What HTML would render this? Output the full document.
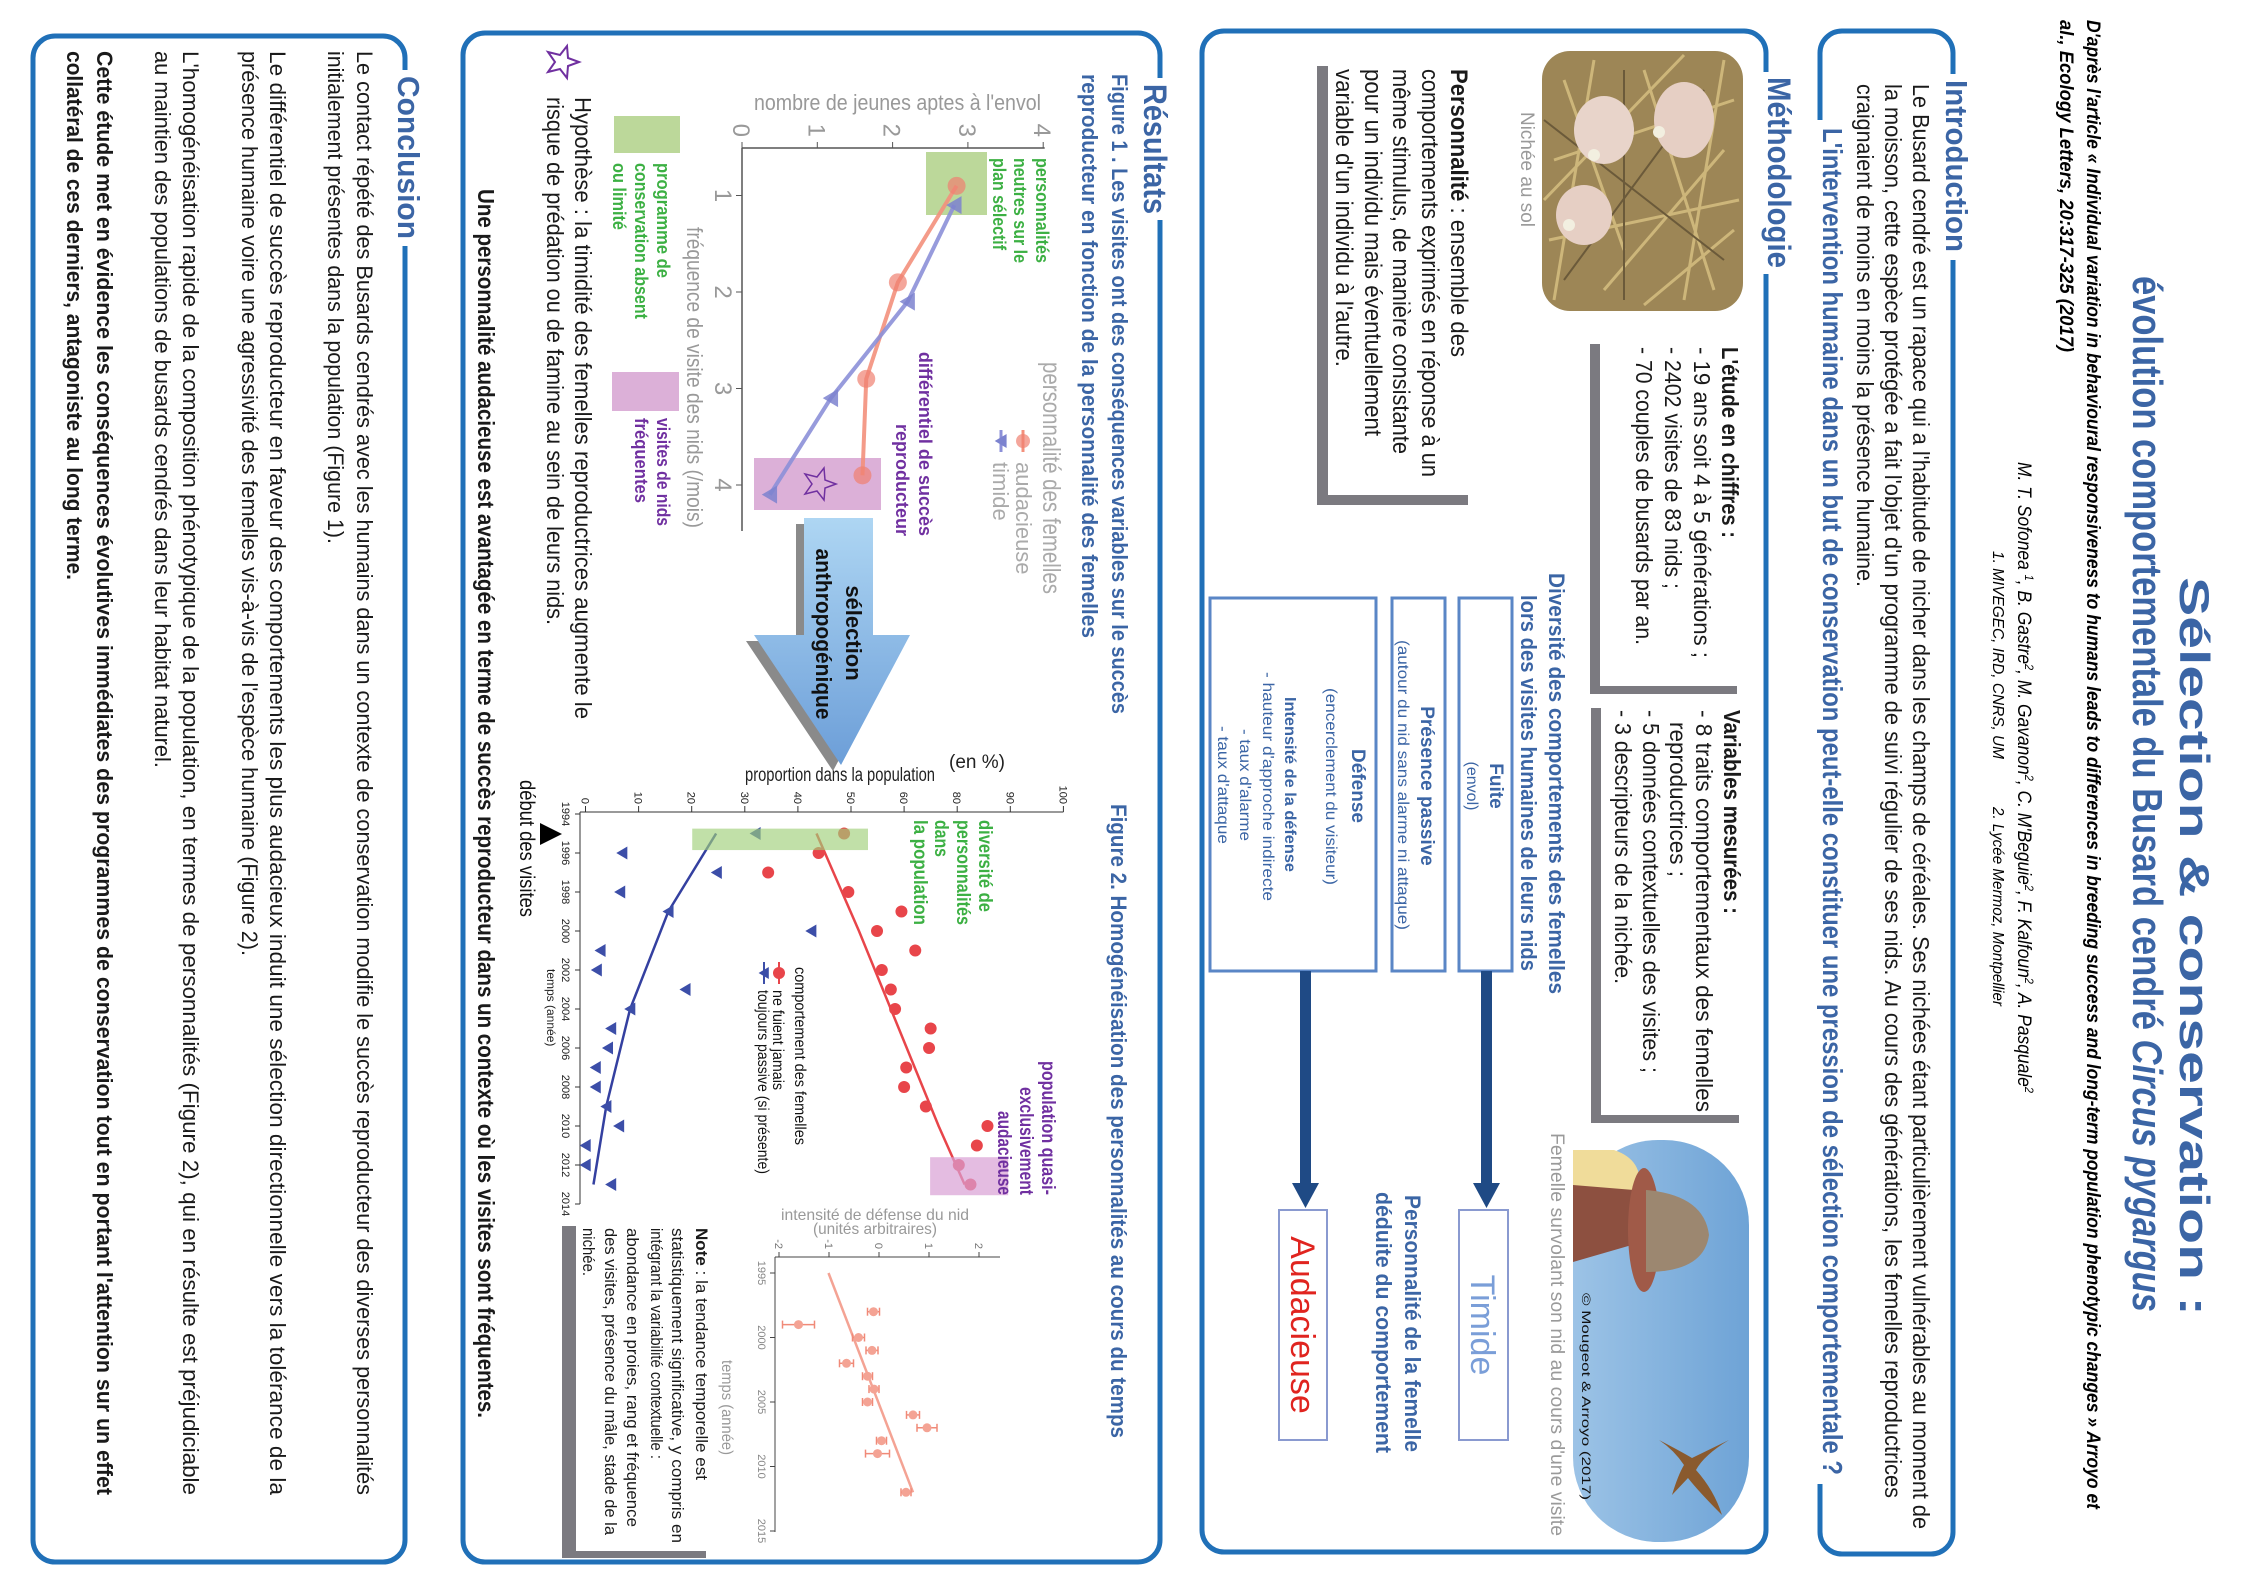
<!DOCTYPE html>
<html lang="fr"><head><meta charset="utf-8"><title>Sélection &amp; conservation – Busard cendré</title>
<style>
html,body{margin:0;padding:0;background:#fff;}
svg{display:block;}
text{font-family:"Liberation Sans",sans-serif;}
.b{font-weight:bold;}
.hd{font-weight:bold;fill:#3b65a5;}
.tx{fill:#1a1a1a;}
.gr{fill:#9a9a9a;}
</style></head>
<body>
<svg id="poster" width="2244" height="1587" viewBox="0 0 2244 1587" xmlns="http://www.w3.org/2000/svg">
<defs>
<linearGradient id="arrowGrad" x1="0" y1="0" x2="1" y2="0"><stop offset="0" stop-color="#aed6f3"/><stop offset="1" stop-color="#6c9ed8"/></linearGradient>
<linearGradient id="skyGrad" x1="0" y1="0" x2="0" y2="1"><stop offset="0" stop-color="#6ea3d6"/><stop offset="1" stop-color="#9cc3e6"/></linearGradient>
</defs>
<rect width="2244" height="1587" fill="#fff"/>
<g id="page" transform="translate(2244,0) rotate(90)">

<text class="hd" x="577" y="64" font-size="42" textLength="739" lengthAdjust="spacingAndGlyphs">Sélection &amp; conservation :</text>
<text class="hd" x="276" y="111" font-size="42" textLength="1036" lengthAdjust="spacingAndGlyphs">évolution comportementale du Busard cendré <tspan font-style="italic">Circus pygargus</tspan></text>
<text font-weight="bold" font-style="italic" font-size="19" x="20" y="157" textLength="1489" lengthAdjust="spacingAndGlyphs">D'après l'article « Individual variation in behavioural responsiveness to humans leads to differences in breeding success and long-term population phenotypic changes » Arroyo et</text>
<text font-weight="bold" font-style="italic" font-size="19" x="20" y="184" textLength="332" lengthAdjust="spacingAndGlyphs">al., Ecology Letters, 20:317-325  (2017)</text>
<text font-style="italic" font-size="19" x="462" y="226" textLength="631" lengthAdjust="spacingAndGlyphs">M. T. Sofonea <tspan font-size="12" dy="-7">1</tspan><tspan dy="7">, B. Gastre</tspan><tspan font-size="12" dy="-7">2</tspan><tspan dy="7">, M. Gavanon</tspan><tspan font-size="12" dy="-7">2</tspan><tspan dy="7">, C. M'Beguie</tspan><tspan font-size="12" dy="-7">2</tspan><tspan dy="7">, F. Kalfoun</tspan><tspan font-size="12" dy="-7">2</tspan><tspan dy="7">, A. Pasquale</tspan><tspan font-size="12" dy="-7">2</tspan></text>
<text font-style="italic" font-size="16" x="551" y="251" textLength="208" lengthAdjust="spacingAndGlyphs">1. MIVEGEC, IRD, CNRS, UM</text>
<text font-style="italic" font-size="16" x="807" y="251" textLength="199" lengthAdjust="spacingAndGlyphs">2. Lycée Mermoz, Montpellier</text>

<g>
<rect x="31" y="291" width="1523" height="133" rx="22" fill="none" stroke="#2070b8" stroke-width="5"/>
<rect x="74" y="278" width="186" height="22" fill="#fff"/>
<text class="hd" x="80" y="298" font-size="31" textLength="172" lengthAdjust="spacingAndGlyphs">Introduction</text>
<text class="tx" font-size="23" x="84" y="331" textLength="1445" lengthAdjust="spacingAndGlyphs">Le Busard cendré est un rapace qui a l'habitude de nicher dans les champs de céréales. Ses nichées étant particulièrement vulnérables au moment de</text>
<text class="tx" font-size="23" x="84" y="359" textLength="1414" lengthAdjust="spacingAndGlyphs">la moisson, cette espèce protégée a fait l'objet d'un programme de suivi régulier de ses nids. Au cours des générations, les femelles reproductrices</text>
<text class="tx" font-size="23" x="84" y="387" textLength="503" lengthAdjust="spacingAndGlyphs">craignaient de moins en moins la présence humaine.</text>
<rect x="120" y="414" width="1364" height="16" fill="#fff"/>
<text class="hd" x="128" y="421" font-size="28" textLength="1347" lengthAdjust="spacingAndGlyphs">L'intervention humaine dans un but de conservation peut-elle constituer une pression de sélection comportementale ?</text>
</g>

<g>
<rect x="31" y="478" width="1521" height="564" rx="22" fill="none" stroke="#2070b8" stroke-width="5"/>
<rect x="72" y="466" width="202" height="22" fill="#fff"/>
<text class="hd" x="77" y="476" font-size="32" textLength="191" lengthAdjust="spacingAndGlyphs">Méthodologie</text>

<g>
<rect x="51" y="501" width="260" height="201" rx="28" fill="#9d8656"/>
<path d="M60 520 L300 560 M70 600 L290 530 M80 680 L250 620 M100 510 L160 690 M200 505 L240 695 M60 650 L300 690 M150 520 L290 640 M55 560 L200 700 M230 510 L305 600" stroke="#cdb67a" stroke-width="3"/>
<path d="M90 540 L280 680 M120 700 L260 520 M70 620 L300 620" stroke="#6b5a3a" stroke-width="2"/>
<ellipse cx="120" cy="560" rx="38" ry="30" fill="#e6cfc4"/>
<ellipse cx="130" cy="640" rx="34" ry="30" fill="#e8d4ca"/>
<ellipse cx="215" cy="660" rx="30" ry="28" fill="#e6cfc4"/>
<circle cx="132" cy="585" r="6" fill="#f2efe0"/><circle cx="155" cy="650" r="6" fill="#f2efe0"/><circle cx="225" cy="675" r="6" fill="#f2efe0"/>
</g>
<text class="gr" font-size="19" x="112" y="723" textLength="115" lengthAdjust="spacingAndGlyphs">Nichée au sol</text>

<g>
<rect x="66" y="776" width="439" height="151" fill="#7b7a80"/>
<rect x="61" y="765" width="434" height="151" fill="#fff"/>
<text class="tx" font-size="24" x="69" y="793" textLength="288" lengthAdjust="spacingAndGlyphs"><tspan font-weight="bold">Personnalité</tspan> : ensemble des</text>
<text class="tx" font-size="24" x="69" y="822" textLength="408" lengthAdjust="spacingAndGlyphs">comportements exprimés en réponse à un</text>
<text class="tx" font-size="24" x="69" y="851" textLength="385" lengthAdjust="spacingAndGlyphs">même stimulus, de manière consistante</text>
<text class="tx" font-size="24" x="69" y="879" textLength="367" lengthAdjust="spacingAndGlyphs">pour un individu mais éventuellement</text>
<text class="tx" font-size="24" x="69" y="908" textLength="298" lengthAdjust="spacingAndGlyphs">variable d'un individu à l'autre.</text>
</g>

<g>
<rect x="344" y="507" width="350" height="147" fill="#7b7a80"/>
<rect x="339" y="497" width="347" height="147" fill="#fff"/>
<text class="tx b" font-size="23" x="347" y="522" textLength="191" lengthAdjust="spacingAndGlyphs">L'étude en chiffres :</text>
<text class="tx" font-size="23" x="347" y="550" textLength="311" lengthAdjust="spacingAndGlyphs">- 19 ans soit 4 à 5 générations ;</text>
<text class="tx" font-size="23" x="347" y="579" textLength="242" lengthAdjust="spacingAndGlyphs">- 2402 visites de 83 nids ;</text>
<text class="tx" font-size="23" x="347" y="608" textLength="298" lengthAdjust="spacingAndGlyphs">- 70 couples de busards par an.</text>
</g>

<g>
<rect x="708" y="505" width="415" height="148" fill="#7b7a80"/>
<rect x="703" y="495" width="412" height="148" fill="#fff"/>
<text class="tx b" font-size="23" x="710" y="520" textLength="204" lengthAdjust="spacingAndGlyphs">Variables mesurées :</text>
<text class="tx" font-size="23" x="710" y="548" textLength="402" lengthAdjust="spacingAndGlyphs">- 8 traits comportementaux des femelles</text>
<text class="tx" font-size="23" x="722" y="574" textLength="155" lengthAdjust="spacingAndGlyphs">reproductrices ;</text>
<text class="tx" font-size="23" x="710" y="601" textLength="363" lengthAdjust="spacingAndGlyphs">- 5 données contextuelles des visites ;</text>
<text class="tx" font-size="23" x="710" y="629" textLength="274" lengthAdjust="spacingAndGlyphs">- 3 descripteurs de la nichée.</text>
</g>

<g>
<rect x="1140" y="495" width="402" height="176" rx="85" fill="url(#skyGrad)"/>
<path d="M1150 671 L1150 630 Q1160 600 1190 605 L1200 671 Z" fill="#f0dc9a"/>
<path d="M1185 671 L1190 610 Q1205 585 1240 595 L1262 671 Z" fill="#8d5040"/>
<ellipse cx="1230" cy="600" rx="62" ry="16" fill="#a05a48"/>
<path d="M1190 598 Q1195 540 1235 535 Q1272 540 1272 598 Z" fill="#9c8770"/>
<path d="M1440 515 Q1455 540 1470 548 Q1490 530 1515 522 Q1492 545 1478 556 L1495 572 Q1475 566 1465 560 Q1450 570 1440 585 Q1452 562 1458 552 Z" fill="#8a5a2e"/>
<text font-family="Liberation Mono, monospace" font-size="12" x="1293" y="662" fill="#111" textLength="207" lengthAdjust="spacingAndGlyphs">© Mougeot &amp; Arroyo (2017)</text>
</g>
<text class="gr" font-size="19" x="1133" y="693" textLength="403" lengthAdjust="spacingAndGlyphs">Femelle survolant son nid au cours d'une visite</text>

<text class="hd" font-size="22" x="573" y="695" textLength="421" lengthAdjust="spacingAndGlyphs">Diversité des comportements des femelles</text>
<text class="hd" font-size="22" x="595" y="723" textLength="376" lengthAdjust="spacingAndGlyphs">lors des visites humaines de leurs nids</text>

<g>
<rect x="598" y="732" width="373" height="53" fill="#fff" stroke="#5a86c6" stroke-width="3"/>
<text class="hd" font-size="19" x="786" y="754" text-anchor="middle">Fuite</text>
<text fill="#3b65a5" font-size="16" x="786" y="777" text-anchor="middle">(envol)</text>
</g>
<g>
<rect x="598" y="799" width="373" height="53" fill="#fff" stroke="#5a86c6" stroke-width="3"/>
<text class="hd" font-size="19" x="786" y="823" text-anchor="middle">Présence passive</text>
<text fill="#3b65a5" font-size="16" x="640" y="846" textLength="290" lengthAdjust="spacingAndGlyphs">(autour du nid sans alarme ni attaque)</text>
</g>
<g>
<rect x="598" y="868" width="373" height="166" fill="#fff" stroke="#5a86c6" stroke-width="3"/>
<text class="hd" font-size="19" x="786" y="892" text-anchor="middle">Défense</text>
<text fill="#3b65a5" font-size="16" x="688" y="918" textLength="197" lengthAdjust="spacingAndGlyphs">(encerclement du visiteur)</text>
<text class="hd" font-size="16" x="697" y="959" textLength="175" lengthAdjust="spacingAndGlyphs">Intensité de la défense</text>
<text fill="#3b65a5" font-size="16" x="672" y="981" textLength="229" lengthAdjust="spacingAndGlyphs">- hauteur d'approche indirecte</text>
<text fill="#3b65a5" font-size="16" x="729" y="1004" textLength="112" lengthAdjust="spacingAndGlyphs">- taux d'alarme</text>
<text fill="#3b65a5" font-size="16" x="726" y="1026" textLength="118" lengthAdjust="spacingAndGlyphs">- taux d'attaque</text>
</g>
<g>
<rect x="971" y="752" width="216" height="11" fill="#1f4a85"/>
<polygon points="1183,744 1208,757.5 1183,771" fill="#1f4a85"/>
</g>
<g>
<rect x="971" y="933" width="216" height="11" fill="#1f4a85"/>
<polygon points="1183,925 1208,938.5 1183,952" fill="#1f4a85"/>
</g>
<g>
<rect x="1210" y="736" width="230" height="49" fill="#fff" stroke="#8a9ad0" stroke-width="2"/>
<text font-size="34" x="1325" y="773" text-anchor="middle" fill="#7a9ed8">Timide</text>
</g>
<g>
<rect x="1210" y="917" width="230" height="48" fill="#fff" stroke="#8a9ad0" stroke-width="2"/>
<text font-size="34" x="1325" y="953" text-anchor="middle" fill="#e0241f">Audacieuse</text>
</g>
<text class="hd" font-size="22" x="1195" y="839" textLength="257" lengthAdjust="spacingAndGlyphs">Personnalité de la femelle</text>
<text class="hd" font-size="22" x="1192" y="868" textLength="261" lengthAdjust="spacingAndGlyphs">déduite du comportement</text>
</g>

<g>
<rect x="33" y="1084" width="1529" height="697" rx="22" fill="none" stroke="#2070b8" stroke-width="5"/>
<rect x="78" y="1072" width="142" height="22" fill="#fff"/>
<text class="hd" x="84" y="1100" font-size="32" textLength="130" lengthAdjust="spacingAndGlyphs">Résultats</text>
<text class="hd" font-size="22" x="74" y="1132" textLength="640" lengthAdjust="spacingAndGlyphs">Figure 1 . Les visites ont des conséquences variables sur le succès</text>
<text class="hd" font-size="22" x="74" y="1162" textLength="564" lengthAdjust="spacingAndGlyphs">reproducteur en fonction de la personnalité des femelles</text>
<text class="hd" font-size="22" x="804" y="1133" textLength="634" lengthAdjust="spacingAndGlyphs">Figure 2. Homogénéisation des personnalités au cours du temps</text>

<g id="fig1"></g>

<g>
<polygon points="524,1379 641,1379 641,1342 771,1411 641,1498 641,1448 524,1448" fill="#8a8a8a"/>
<polygon points="518,1371 635,1371 635,1334 765,1403 635,1490 635,1440 518,1440" fill="url(#arrowGrad)"/>
<text class="b" font-size="22" x="633" y="1398" text-anchor="middle" fill="#111">sélection</text>
<text class="b" font-size="22" x="634" y="1428" text-anchor="middle" fill="#111" textLength="171" lengthAdjust="spacingAndGlyphs">anthropogénique</text>
</g>

<g>
<rect x="116" y="1564" width="37" height="66" fill="#bcd89a"/>
<text fill="#3cb043" class="b" font-size="18" x="163" y="1587" textLength="115" lengthAdjust="spacingAndGlyphs">programme de</text>
<text fill="#3cb043" class="b" font-size="18" x="163" y="1609" textLength="156" lengthAdjust="spacingAndGlyphs">conservation absent</text>
<text fill="#3cb043" class="b" font-size="18" x="163" y="1631" textLength="67" lengthAdjust="spacingAndGlyphs">ou limité</text>
<rect x="372" y="1565" width="39" height="67" fill="#dcb0d8"/>
<text fill="#7030a0" class="b" font-size="18" x="418" y="1587" textLength="108" lengthAdjust="spacingAndGlyphs">visites de nids</text>
<text fill="#7030a0" class="b" font-size="18" x="418" y="1609" textLength="85" lengthAdjust="spacingAndGlyphs">fréquentes</text>
</g>
<polygon points="62,1665 66,1676 78,1677 69,1684 72,1696 62,1689 52,1696 55,1684 46,1677 58,1676" fill="none" stroke="#7030a0" stroke-width="2"/>
<text class="tx" font-size="23" x="97" y="1669" textLength="622" lengthAdjust="spacingAndGlyphs">Hypothèse : la timidité des femelles reproductrices augmente le</text>
<text class="tx" font-size="23" x="97" y="1697" textLength="528" lengthAdjust="spacingAndGlyphs">risque de prédation ou de famine au sein de leurs nids.</text>
<text class="tx b" font-size="23" x="189" y="1766" textLength="1229" lengthAdjust="spacingAndGlyphs">Une personnalité audacieuse est avantagée en terme de succès reproducteur dans un contexte où les visites sont fréquentes.</text>

<g id="fig2"></g>
<g id="fig3"></g>

<g>
<rect x="1226" y="1538" width="332" height="144" fill="#7b7a80"/>
<rect x="1221" y="1528" width="330" height="140" fill="#fff"/>
<text class="tx" font-size="17" x="1228" y="1548" textLength="252" lengthAdjust="spacingAndGlyphs"><tspan font-weight="bold">Note</tspan> : la tendance temporelle est</text>
<text class="tx" font-size="17" x="1228" y="1572" textLength="315" lengthAdjust="spacingAndGlyphs">statistiquement significative, y compris en</text>
<text class="tx" font-size="17" x="1228" y="1593" textLength="231" lengthAdjust="spacingAndGlyphs">intégrant la variabilité contextuelle :</text>
<text class="tx" font-size="17" x="1228" y="1617" textLength="299" lengthAdjust="spacingAndGlyphs">abondance en proies, rang et fréquence</text>
<text class="tx" font-size="17" x="1228" y="1639" textLength="307" lengthAdjust="spacingAndGlyphs">des visites, présence du mâle, stade de la</text>
<text class="tx" font-size="17" x="1228" y="1661" textLength="48" lengthAdjust="spacingAndGlyphs">nichée.</text>
</g>
</g>

<g>
<rect x="36" y="1839" width="1526" height="372" rx="22" fill="none" stroke="#2070b8" stroke-width="5"/>
<rect x="70" y="1826" width="176" height="22" fill="#fff"/>
<text class="hd" x="76" y="1846" font-size="31" textLength="163" lengthAdjust="spacingAndGlyphs">Conclusion</text>
<text class="tx" font-size="22" x="51" y="1887" textLength="1444" lengthAdjust="spacingAndGlyphs">Le contact répété des Busards cendrés avec les humains dans un contexte de conservation modifie le succès reproducteur des diverses personnalités</text>
<text class="tx" font-size="22" x="51" y="1916" textLength="493" lengthAdjust="spacingAndGlyphs">initialement présentes dans la population (Figure 1).</text>
<text class="tx" font-size="22" x="51" y="1974" textLength="1444" lengthAdjust="spacingAndGlyphs">Le différentiel de succès reproducteur en faveur des comportements les plus audacieux induit une sélection directionnelle vers la tolérance de la</text>
<text class="tx" font-size="22" x="51" y="2002" textLength="905" lengthAdjust="spacingAndGlyphs">présence humaine voire une agressivité des femelles vis-à-vis de l'espèce humaine (Figure 2).</text>
<text class="tx" font-size="22" x="51" y="2061" textLength="1444" lengthAdjust="spacingAndGlyphs">L'homogénéisation rapide de la composition phénotypique de la population, en termes de personnalités (Figure 2), qui en résulte est préjudiciable</text>
<text class="tx" font-size="22" x="51" y="2089" textLength="717" lengthAdjust="spacingAndGlyphs">au maintien des populations de busards cendrés dans leur habitat naturel.</text>
<text class="tx b" font-size="22" x="51" y="2147" textLength="1444" lengthAdjust="spacingAndGlyphs">Cette étude met en évidence les conséquences évolutives immédiates des programmes de conservation tout en portant l'attention sur un effet</text>
<text class="tx b" font-size="22" x="51" y="2177" textLength="529" lengthAdjust="spacingAndGlyphs">collatéral de ces derniers, antagoniste au long terme.</text>
</g>
</g>
</svg>

<script>
// ---------- Figure 1 data ----------
const f1Freq = [1, 2, 3, 4];
const f1Bold = [2.85, 2.07, 1.65, 1.6];
const f1Timid = [2.82, 2.2, 1.18, 0.37];
const f1YTicks = [0, 1, 2, 3, 4];
const f1XTicks = [1, 2, 3, 4];
// ---------- Figure 2 data ----------
const f2Years = [1995,1996,1997,1998,1999,2000,2001,2002,2003,2004,2005,2006,2007,2008,2009,2010,2011,2012,2013];
const f2NeverFlee = [48.7,43.9,34.4,49.5,59.5,54.9,62.1,55.8,57.5,58.3,65.0,64.7,60.4,60.0,64.1,75.7,73.7,70.3,72.5];
const f2Passive = [32.0,6.9,24.7,6.5,15.6,42.5,2.8,2.1,18.8,8.4,4.8,4.2,1.9,1.9,3.9,6.3,0,0,4.8];
const f2FitYears = [1995, 2000, 2005, 2010, 2013];
const f2FitRed = [43.5, 51.5, 59.0, 66.5, 71.4];
const f2FitYearsB = [1995, 1999, 2004, 2009, 2013];
const f2FitBlue = [24.6, 15.6, 8.4, 3.9, 1.5];
const f2YTickLabels = ['0','10','20','30','40','50','60','80','90','100'];
const f2XTicks = [1994,1996,1998,2000,2002,2004,2006,2008,2010,2012,2014];
// ---------- Inset data ----------
const f3Years = [1998,1999,2000,2001,2002,2003,2004,2005,2006,2007,2008,2009,2012];
const f3Defence = [-0.11,-1.61,-0.41,-0.14,-0.65,-0.23,-0.10,-0.23,0.68,0.96,0.05,-0.03,0.54];
const f3Err = [0.12,0.32,0.12,0.12,0.14,0.1,0.1,0.1,0.13,0.2,0.1,0.24,0.1];
const f3TrendYears = [1995, 2012];
const f3TrendVals = [-1.01, 0.68];
const f3YTicks = [-2, -1, 0, 1, 2];
const f3XTicks = [1995, 2000, 2005, 2010, 2015];

const NS = 'http://www.w3.org/2000/svg';
function mk(parent, tag, attrs, txt) {
  const e = document.createElementNS(NS, tag);
  for (const k in attrs) e.setAttribute(k, attrs[k]);
  if (txt !== undefined) e.textContent = txt;
  parent.appendChild(e);
  return e;
}
function triDown(cx, cy, s) {
  return (cx - s) + ',' + (cy - s * 0.8) + ' ' + (cx + s) + ',' + (cy - s * 0.8) + ' ' + cx + ',' + (cy + s * 0.9);
}

(function () {
  const g = document.getElementById('fig1');
  const fx = f => 99 + f * 96.5;
  const fy = n => 1502 - n * 75.3;
  const gb = mk(g, 'rect', {x: 152, y: 1257, width: 63, height: 61, fill: '#bcd89a'});
  
  
  const pb = mk(g, 'rect', {x: 458, y: 1363, width: 52, height: 127, fill: '#dcb0d8'});
  
  
  mk(g, 'line', {x1: 148, y1: fy(0), x2: 531, y2: fy(0), stroke: '#555', 'stroke-width': 1.5});
  mk(g, 'line', {x1: 148, y1: fy(0), x2: 148, y2: fy(4.02), stroke: '#555', 'stroke-width': 1.5});
  f1XTicks.forEach(t => {
    mk(g, 'line', {x1: fx(t), y1: fy(0), x2: fx(t), y2: fy(0) + 6, stroke: '#555'});
    const l = mk(g, 'text', {x: fx(t), y: 1529, 'text-anchor': 'middle', 'font-size': 24, fill: '#999'}, String(t));
    
    
  });
  f1YTicks.forEach(t => {
    mk(g, 'line', {x1: 142, y1: fy(t), x2: 148, y2: fy(t), stroke: '#555'});
    const l = mk(g, 'text', {x: 137, y: fy(t) + 9, 'text-anchor': 'end', 'font-size': 24, fill: '#999'}, String(t));
    
    
  });
  const yt = mk(g, 'text', {transform: 'translate(110,1490) rotate(-90)', 'font-size': 22, fill: '#999', textLength: 287, lengthAdjust: 'spacingAndGlyphs'}, "nombre de jeunes aptes à l'envol");
  
  
  const xt = mk(g, 'text', {x: 227, y: 1557, 'font-size': 22, fill: '#999', textLength: 301, lengthAdjust: 'spacingAndGlyphs'}, 'fréquence de visite des nids (/mois)');
  
  
  const redPts = f1Freq.map((f, i) => [fx(f - 0.1), fy(f1Bold[i])]);
  const bluePts = f1Freq.map((f, i) => [fx(f + 0.1), fy(f1Timid[i])]);
  const rl = mk(g, 'polyline', {points: redPts.map(p => p.join(',')).join(' '), fill: 'none', stroke: '#f3907c', 'stroke-width': 4, opacity: 0.9});
  
  
  const bl = mk(g, 'polyline', {points: bluePts.map(p => p.join(',')).join(' '), fill: 'none', stroke: '#8c90d8', 'stroke-width': 4, opacity: 0.9});
  
  
  redPts.forEach(p => {
    const c = mk(g, 'circle', {cx: p[0], cy: p[1], r: 9, fill: '#f08070', opacity: 0.7});
    
    
  });
  bluePts.forEach(p => {
    const t = mk(g, 'polygon', {points: triDown(p[0], p[1], 9), fill: '#7c83cf', opacity: 0.85});
    
    
  });
  mk(g, 'polygon', {points: '484,1408 488,1419 500,1420 491,1427 494,1439 484,1432 474,1439 477,1427 468,1420 480,1419', fill: 'none', stroke: '#7030a0', 'stroke-width': 1.5});
  const lg = mk(g, 'text', {x: 362, y: 1201, 'font-size': 25, fill: '#aaa', textLength: 232, lengthAdjust: 'spacingAndGlyphs'}, 'personnalité des femelles');
  
  
  mk(g, 'line', {x1: 430, y1: 1221, x2: 452, y2: 1221, stroke: '#f3907c', 'stroke-width': 3});
  mk(g, 'circle', {cx: 441, cy: 1221, r: 7, fill: '#f08070', opacity: 0.7});
  const le1 = mk(g, 'text', {x: 462, y: 1228, 'font-size': 22, fill: '#aaa'}, 'audacieuse');
  
  
  mk(g, 'line', {x1: 430, y1: 1243, x2: 452, y2: 1243, stroke: '#8c90d8', 'stroke-width': 3});
  mk(g, 'polygon', {points: triDown(441, 1243, 7), fill: '#7c83cf'});
  const le2 = mk(g, 'text', {x: 462, y: 1251, 'font-size': 22, fill: '#aaa'}, 'timide');
  
  
  [['personnalités', 1208, 105], ['neutres sur le', 1230, 105], ['plan sélectif', 1251, 92]].forEach(a => {
    mk(g, 'text', {x: 158, y: a[1], 'font-size': 18, 'font-weight': 'bold', fill: '#3cb043', textLength: a[2], lengthAdjust: 'spacingAndGlyphs'}, a[0]);
  });
  mk(g, 'text', {x: 536, y: 1325, 'text-anchor': 'end', 'font-size': 18, 'font-weight': 'bold', fill: '#7030a0'}, 'différentiel de succès');
  mk(g, 'text', {x: 536, y: 1348, 'text-anchor': 'end', 'font-size': 18, 'font-weight': 'bold', fill: '#7030a0'}, 'reproducteur');
})();

(function () {
  const g = document.getElementById('fig2');
  const gx = yr => 814 + (yr - 1994) * 19.5;
  const gy = v => 1658.5 - v * 5.31;
  mk(g, 'line', {x1: 812, y1: 1664, x2: 1204, y2: 1664, stroke: '#333', 'stroke-width': 1});
  mk(g, 'line', {x1: 812, y1: 1664, x2: 812, y2: gy(90), stroke: '#333', 'stroke-width': 1});
  f2YTickLabels.forEach((lab, i) => {
    mk(g, 'line', {x1: 806, y1: gy(i * 10), x2: 812, y2: gy(i * 10), stroke: '#333'});
    const t = mk(g, 'text', {x: 804, y: gy(i * 10) + 4, 'text-anchor': 'end', 'font-size': 11, fill: '#222'}, lab);
    
    
  });
  f2XTicks.forEach(yr => {
    mk(g, 'line', {x1: gx(yr), y1: 1664, x2: gx(yr), y2: 1669, stroke: '#333'});
    const t = mk(g, 'text', {x: gx(yr), y: 1682, 'text-anchor': 'middle', 'font-size': 11, fill: '#222'}, String(yr));
    
    
  });
  const xt = mk(g, 'text', {x: 969, y: 1697, 'font-size': 12, fill: '#222'}, 'temps (année)');
  
  
  const yt = mk(g, 'text', {transform: 'translate(781,1499) rotate(-90)', 'font-size': 19, fill: '#222', textLength: 190, lengthAdjust: 'spacingAndGlyphs'}, 'proportion dans la population');
  
  
  mk(g, 'text', {transform: 'translate(768,1295) rotate(-90)', 'font-size': 19, fill: '#222'}, '(en %)');
  const sm = mk(g, 'polygon', {points: '823,1704 845,1704 834,1682', fill: '#000'});
  
  
  mk(g, 'text', {x: 780, y: 1724, 'font-size': 21, fill: '#111', textLength: 137, lengthAdjust: 'spacingAndGlyphs'}, 'début des visites');
  const rf = mk(g, 'polyline', {points: f2FitYears.map((y, i) => gx(y) + ',' + gy(f2FitRed[i])).join(' '), fill: 'none', stroke: '#e8454a', 'stroke-width': 2.5});
  
  
  const bf = mk(g, 'polyline', {points: f2FitYearsB.map((y, i) => gx(y) + ',' + gy(f2FitBlue[i])).join(' '), fill: 'none', stroke: '#3440a0', 'stroke-width': 2.5});
  
  
  f2Years.forEach((yr, i) => {
    const c = mk(g, 'circle', {cx: gx(yr), cy: gy(f2NeverFlee[i]), r: 6, fill: '#e8454a'});
    
    
    const t = mk(g, 'polygon', {points: triDown(gx(yr), gy(f2Passive[i]), 6.5), fill: '#3c4ea8'});
    
    
  });
  const gr = mk(g, 'rect', {x: gx(1994.75), y: gy(53.2), width: gx(1995.85) - gx(1994.75), height: gy(20.1) - gy(53.2), fill: '#9fcf7a', opacity: 0.65});
  
  
  const pr = mk(g, 'rect', {x: gx(2011.6), y: gy(79.6), width: gx(2013.55) - gx(2011.6), height: gy(64.9) - gy(79.6), fill: '#d9a0d4', opacity: 0.7});
  
  
  [['diversité de', 1265, 92], ['personnalités', 1287, 105], ['dans', 1309, 37], ['la population', 1330, 105]].forEach(a => {
    mk(g, 'text', {x: 820, y: a[1], 'font-size': 19, 'font-weight': 'bold', fill: '#3cb043', textLength: a[2], lengthAdjust: 'spacingAndGlyphs'}, a[0]);
  });
  [['population quasi-', 1202, 134], ['exclusivement', 1224, 108], ['audacieuse', 1246, 84]].forEach(a => {
    mk(g, 'text', {x: 1195 - a[2], y: a[1], 'font-size': 19, 'font-weight': 'bold', fill: '#7030a0', textLength: a[2], lengthAdjust: 'spacingAndGlyphs'}, a[0]);
  });
  const lt = mk(g, 'text', {x: 967, y: 1449, 'font-size': 16, fill: '#111', textLength: 178, lengthAdjust: 'spacingAndGlyphs'}, 'comportement des femelles');
  
  
  mk(g, 'line', {x1: 962, y1: 1465, x2: 984, y2: 1465, stroke: '#e8454a', 'stroke-width': 2});
  mk(g, 'circle', {cx: 973, cy: 1465, r: 6, fill: '#e8454a'});
  const l1 = mk(g, 'text', {x: 990, y: 1471, 'font-size': 16, fill: '#111', textLength: 100, lengthAdjust: 'spacingAndGlyphs'}, 'ne fuient jamais');
  
  
  mk(g, 'line', {x1: 962, y1: 1480, x2: 984, y2: 1480, stroke: '#3c4ea8', 'stroke-width': 2});
  mk(g, 'polygon', {points: triDown(973, 1480, 6), fill: '#3c4ea8'});
  const l2 = mk(g, 'text', {x: 990, y: 1486, 'font-size': 16, fill: '#111', textLength: 184, lengthAdjust: 'spacingAndGlyphs'}, 'toujours passive (si présente)');
  
  
})();

(function () {
  const g = document.getElementById('fig3');
  const ix = yr => 1273 + (yr - 1995) * 12.9;
  const iy = v => 1365 - v * 50;
  mk(g, 'line', {x1: 1257, y1: 1469, x2: 1532, y2: 1469, stroke: '#444'});
  mk(g, 'line', {x1: 1257, y1: 1469, x2: 1257, y2: 1244, stroke: '#444'});
  f3YTicks.forEach(t => {
    mk(g, 'line', {x1: 1252, y1: iy(t), x2: 1257, y2: iy(t), stroke: '#444'});
    const l = mk(g, 'text', {x: 1249, y: iy(t) + 4, 'text-anchor': 'end', 'font-size': 11, fill: '#777'}, String(t));
    
    
  });
  f3XTicks.forEach(t => {
    mk(g, 'line', {x1: ix(t), y1: 1469, x2: ix(t), y2: 1474, stroke: '#444'});
    const l = mk(g, 'text', {x: ix(t), y: 1486, 'text-anchor': 'middle', 'font-size': 11, fill: '#888'}, String(t));
    
    
  });
  const xt = mk(g, 'text', {x: 1360, y: 1522, 'font-size': 16, fill: '#999', textLength: 95, lengthAdjust: 'spacingAndGlyphs'}, 'temps (année)');
  
  
  const yt = mk(g, 'text', {transform: 'translate(1220,1463) rotate(-90)', 'font-size': 16, fill: '#999', textLength: 188, lengthAdjust: 'spacingAndGlyphs'}, 'intensité de défense du nid');
  
  
  mk(g, 'text', {transform: 'translate(1234,1431) rotate(-90)', 'font-size': 16, fill: '#999', textLength: 124, lengthAdjust: 'spacingAndGlyphs'}, '(unités arbitraires)');
  const tl = mk(g, 'line', {x1: ix(f3TrendYears[0]), y1: iy(f3TrendVals[0]), x2: ix(f3TrendYears[1]), y2: iy(f3TrendVals[1]), stroke: '#f4a394', 'stroke-width': 2.5});
  
  
  f3Years.forEach((yr, i) => {
    const x = ix(yr), y = iy(f3Defence[i]), e = f3Err[i] * 50;
    mk(g, 'line', {x1: x, y1: y - e, x2: x, y2: y + e, stroke: '#f08a78', 'stroke-width': 1.5});
    mk(g, 'line', {x1: x - 4, y1: y - e, x2: x + 4, y2: y - e, stroke: '#f08a78', 'stroke-width': 1.5});
    mk(g, 'line', {x1: x - 4, y1: y + e, x2: x + 4, y2: y + e, stroke: '#f08a78', 'stroke-width': 1.5});
    const c = mk(g, 'circle', {cx: x, cy: y, r: 4.5, fill: '#f4a394'});
    
    
  });
})();
</script>
</body></html>
